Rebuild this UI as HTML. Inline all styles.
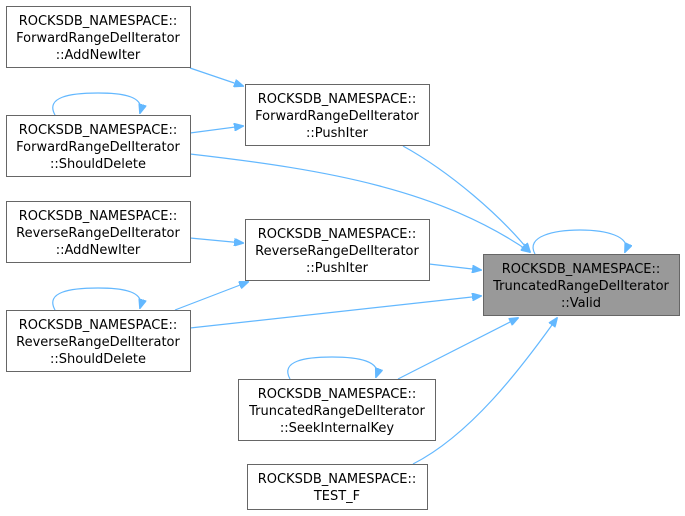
<!DOCTYPE html>
<html><head><meta charset="utf-8"><style>
html,body{margin:0;padding:0;background:#fff;width:685px;height:516px;overflow:hidden}
text{font-family:"DejaVu Sans","Liberation Sans",sans-serif;font-size:13px;fill:#000}
</style></head><body>
<svg width="685" height="516" viewBox="0 0 685 516" xmlns="http://www.w3.org/2000/svg">
<defs><marker id="a" markerWidth="10" markerHeight="8" refX="9" refY="4" orient="auto" markerUnits="userSpaceOnUse"><path d="M0,0 L10,4 L0,8 Z" fill="#63b8ff" stroke="#63b8ff"/></marker></defs>
<g fill="none" stroke="#63b8ff" stroke-width="1.2">
<path d="M190,68 L243,86" marker-end="url(#a)"/>
<path d="M190,133 L243,126" marker-end="url(#a)"/>
<path d="M190,154 C330,170 440,190 530,252" marker-end="url(#a)"/>
<path d="M55,115 C45,97 70,93 98,93 C125,93 145,97 140,113" marker-end="url(#a)"/>
<path d="M403,146 C450,172 500,215 530,252" marker-end="url(#a)"/>
<path d="M190,238 L243,243" marker-end="url(#a)"/>
<path d="M175,310 L248,282" marker-end="url(#a)"/>
<path d="M190,328 L481,296" marker-end="url(#a)"/>
<path d="M55,310 C45,292 70,288 98,288 C125,288 145,292 140,308" marker-end="url(#a)"/>
<path d="M429,264 L481,270" marker-end="url(#a)"/>
<path d="M398,379 L518,318" marker-end="url(#a)"/>
<path d="M413,464 C470,435 520,370 557,318" marker-end="url(#a)"/>
<path d="M535,254 C525,236 555,230 580,230 C605,230 632,236 625,252" marker-end="url(#a)"/>
<path d="M290,379 C280,361 305,357 332,357 C358,357 382,361 376,377" marker-end="url(#a)"/>
</g>
<g stroke="#666" stroke-width="1" fill="#fff">
<rect x="6.5" y="6.5" width="184" height="61"/>
<rect x="6.5" y="115.5" width="184" height="61"/>
<rect x="6.5" y="201.5" width="184" height="61"/>
<rect x="6.5" y="310.5" width="184" height="61"/>
<rect x="245.5" y="84.5" width="184" height="61"/>
<rect x="245.5" y="219.5" width="184" height="61"/>
<rect x="238.5" y="379.5" width="197" height="61"/>
<rect x="247.5" y="464.5" width="180" height="45"/>
<rect x="483.5" y="254.5" width="196" height="61" fill="#999"/>
</g>
<g text-anchor="middle">
<text x="98" y="25">ROCKSDB_NAMESPACE::</text><text x="98" y="42">ForwardRangeDelIterator</text><text x="98" y="59">::AddNewIter</text>
<text x="98" y="134">ROCKSDB_NAMESPACE::</text><text x="98" y="151">ForwardRangeDelIterator</text><text x="98" y="168">::ShouldDelete</text>
<text x="98" y="220">ROCKSDB_NAMESPACE::</text><text x="98" y="237">ReverseRangeDelIterator</text><text x="98" y="254">::AddNewIter</text>
<text x="98" y="329">ROCKSDB_NAMESPACE::</text><text x="98" y="346">ReverseRangeDelIterator</text><text x="98" y="363">::ShouldDelete</text>
<text x="337" y="103">ROCKSDB_NAMESPACE::</text><text x="337" y="120">ForwardRangeDelIterator</text><text x="337" y="137">::PushIter</text>
<text x="337" y="238">ROCKSDB_NAMESPACE::</text><text x="337" y="255">ReverseRangeDelIterator</text><text x="337" y="272">::PushIter</text>
<text x="337" y="398">ROCKSDB_NAMESPACE::</text><text x="337" y="415">TruncatedRangeDelIterator</text><text x="337" y="432">::SeekInternalKey</text>
<text x="337" y="483">ROCKSDB_NAMESPACE::</text><text x="337" y="500">TEST_F</text>
<text x="581" y="273">ROCKSDB_NAMESPACE::</text><text x="581" y="290">TruncatedRangeDelIterator</text><text x="581" y="307">::Valid</text>
</g>
</svg>
</body></html>
